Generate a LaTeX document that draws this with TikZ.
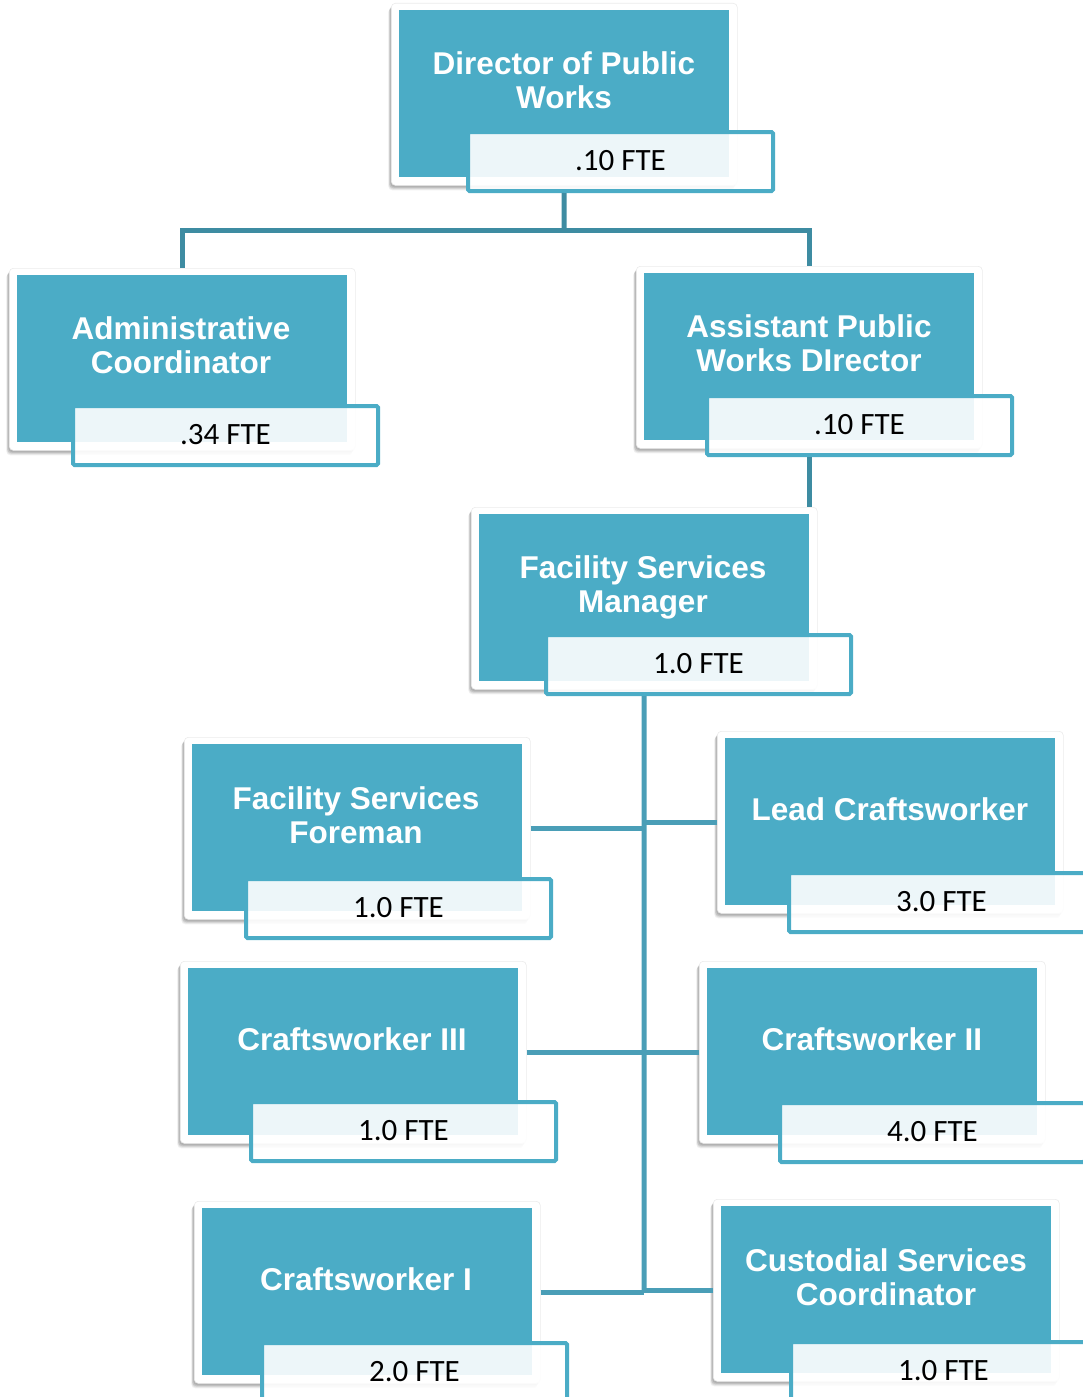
\documentclass[tikz,border=0pt]{standalone}
\usepackage{fontspec}
\setmainfont{Liberation Sans}
\newfontfamily\ftefont{Carlito}
\usetikzlibrary{shadows}
\definecolor{tealA}{HTML}{4BACC6}
\definecolor{conntop}{HTML}{3E8CA2}
\definecolor{connlow}{HTML}{4A9EB7}
\tikzset{
  frame/.style={fill=white, draw=black!8, line width=0.6pt, rounded corners=4pt, inner sep=0pt, anchor=north west,
    minimum width=346pt, minimum height=182pt,
    drop shadow={shadow xshift=-3pt, shadow yshift=-5pt, opacity=0.06, fill=black},
    drop shadow={shadow xshift=-2.5pt, shadow yshift=-4pt, opacity=0.08, fill=black},
    drop shadow={shadow xshift=-2pt, shadow yshift=-3pt, opacity=0.10, fill=black},
    drop shadow={shadow xshift=-1pt, shadow yshift=-2pt, opacity=0.10, fill=black}},
  tealbox/.style={fill=tealA, inner sep=0pt, anchor=north west,
    minimum width=330pt, minimum height=167pt},
  ttl/.style={text=white, font=\bfseries\fontsize{31.5}{34}\selectfont, align=center, inner sep=0pt},
  ftebox/.style={draw=tealA, line width=4pt, fill=white, fill opacity=0.9, text opacity=1,
    rounded corners=1.5pt, anchor=north west, minimum width=305pt, minimum height=59pt,
    inner sep=0pt, text depth=0pt, font=\ftefont\fontsize{31}{34}\selectfont},
  conn/.style={line width=5pt, draw=conntop},
  connl/.style={line width=5pt, draw=connlow},
}
% name, frame x, frame y, title, title x, title y, fte x, fte y, fte text
\newcommand\orgunit[9]{%
  \node[frame] (#1-frame) at (#2,#3) {};
  \node[tealbox] (#1-teal) at ([xshift=8pt,yshift=-7pt]#1-frame.north west) {};
  \node[ttl] (#1-title) at (#5,#6) {#4};
  \node[ftebox] (#1-fte) at (#7,#8) {\raisebox{2pt}{#9}\hspace{5pt}};
}
\begin{document}
\begin{tikzpicture}[x=1pt,y=-1pt]
\useasboundingbox (0,0) rectangle (1082,1397);
\orgunit{dir}{391}{3}{Director of Public\\Works}{564}{80}{466}{130}{.10 FTE}
\orgunit{adm}{9}{268}{Administrative\\Coordinator}{181}{345}{71}{404}{.34 FTE}
\orgunit{apw}{636}{266}{Assistant Public\\Works DIrector}{809}{343}{705}{394}{.10 FTE}
\orgunit{fsm}{471}{507}{Facility Services\\Manager}{643}{587}{544}{633}{1.0 FTE}
\orgunit{fsf}{184}{737}{Facility Services\\Foreman}{356}{815}{244}{877}{1.0 FTE}
\orgunit{lcw}{717}{731}{Lead Craftsworker}{890}{809}{787}{871}{3.0 FTE}
\orgunit{cwc}{180}{961}{Craftsworker III}{352}{1039}{249}{1100}{1.0 FTE}
\orgunit{cwb}{699}{961}{Craftsworker II}{872}{1039}{778}{1101}{4.0 FTE}
\orgunit{cwa}{194}{1201}{Craftsworker I}{366}{1279}{260}{1341}{2.0 FTE}
\orgunit{csc}{713}{1199}{Custodial Services\\Coordinator}{886}{1277}{789}{1340}{1.0 FTE}
% top connectors
\coordinate (j1) at (564,230);
\draw[conn] (dir-teal.south |- dir-fte.south) -- (j1);
\draw[conn] (adm-frame.north) |- (j1) -| (apw-frame.north);
\draw[conn] (apw-teal.south |- apw-fte.south) -- (apw-teal.south |- fsm-frame.north);
% spine
\coordinate (spinebot) at (644,1292);
\draw[connl] (fsm-teal.south |- fsm-fte.south) -- (spinebot);
\draw[connl] (fsf-frame.east) -- (fsf-frame.east -| spinebot);
\draw[connl] (lcw-frame.west) -- (lcw-frame.west -| spinebot);
\draw[connl] (cwc-frame.east) -- (cwc-frame.east -| spinebot);
\draw[connl] (cwb-frame.west) -- (cwb-frame.west -| spinebot);
\draw[connl] (cwa-frame.east) -- (cwa-frame.east -| spinebot);
\draw[connl] (csc-frame.west) -- (csc-frame.west -| spinebot);
\end{tikzpicture}
\end{document}
